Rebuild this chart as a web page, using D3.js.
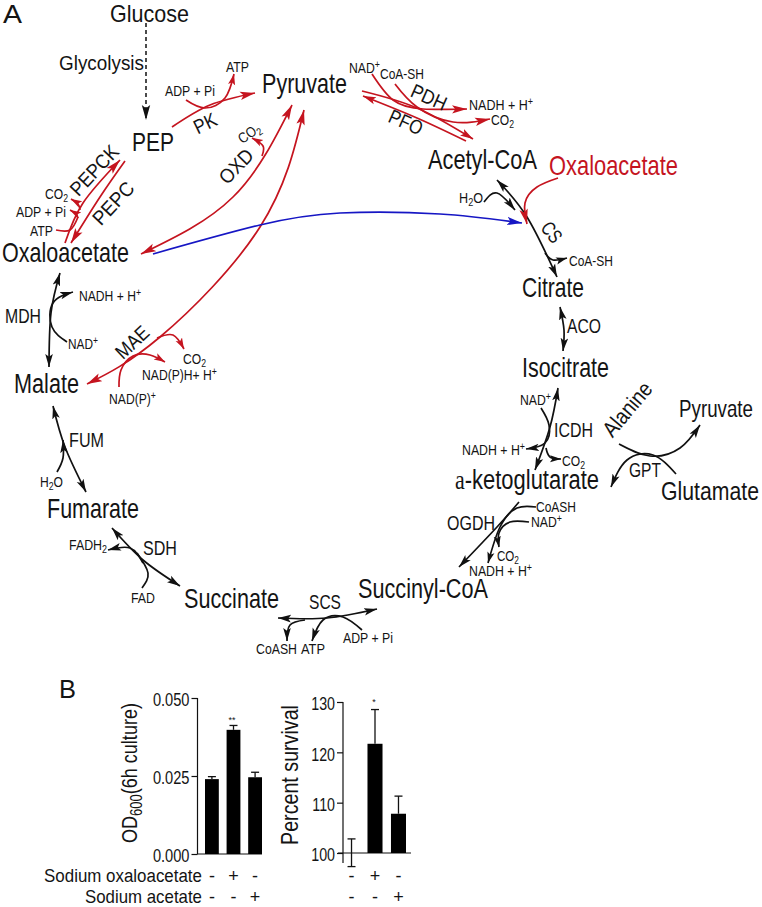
<!DOCTYPE html>
<html><head><meta charset="utf-8">
<script src="https://cdn.jsdelivr.net/npm/d3@7/dist/d3.min.js"></script>
<style>html,body{margin:0;padding:0;background:#fff}svg{display:block}text{font-family:"Liberation Sans",Arial,sans-serif;fill:#141414}</style>
</head><body><svg id="c" width="762" height="907"></svg>
<script>
// ---------- data ----------
const panelLabels = ["A","B"];
const metabolites = ["Glucose","PEP","Pyruvate","Oxaloacetate","Acetyl-CoA","Citrate","Isocitrate","a-ketoglutarate","Succinyl-CoA","Succinate","Fumarate","Malate"];
const enzymes = ["PK","OXD","PEPCK","PEPC","MDH","MAE","FUM","SDH","SCS","OGDH","ICDH","ACO","CS","PDH","PFO","GPT"];
const barConditions = ["control","oxaloacetate","acetate"];
const odValues = [0.024,0.0398,0.0246];
const odErrorTops = [0.0248,0.0412,0.0262];
const odTicks = [0,0.025,0.05];
const survivalValues = [100,121.7,107.8];
const survivalErrorTops = [102.8,128.5,111.3];
const survivalErrorBottoms = [97.3,null,null];
const survivalTicks = [100,110,120,130];
const oxaloacetateSigns = ["-","+","-"];
const acetateSigns = ["-","-","+"];

// ---------- diagram layout (drawing geometry, not values) ----------
const red="#c5141f", blue="#1616c4", black="#111";
// text, left x, baseline y, width, font size, colour
const flatLabels = [
 ["A",3,23,19,25],["B",59,698,17,25],
 ["Glucose",110,22,79,24],["Glycolysis",59,70,85,21],["ADP + Pi",165,96,50,14.5],["ATP",226,72,23,14.5],
 ["Pyruvate",262,93,85,27],["PEP",132,151,42,26],
 ["CO_2",45,199,23,14.5],["ADP + Pi",16,217,50,14.5],["ATP",30,236,23,14.5],["Oxaloacetate",2,262,127,27],
 ["NADH + H^+",79,301,62,14.5],["MDH",5,323,36,20],["NAD^+",68,349,30,14.5],
 ["CO_2",183,364,23,14.5],["NAD(P)H+ H^+",142,380,75,14.5],["NAD(P)^+",109,404,47,14.5],["Malate",14,393,65,27],
 ["FUM",69,447,35,20],["H_2O",40,487,23,14.5],["Fumarate",47,518,92,27],
 ["FADH_2",69,550,38,14.5],["SDH",143,555,34,20],["FAD",131,603,24,14.5],["Succinate",184,608,95,27],
 ["SCS",309,609,32,20],["Succinyl-CoA",358,598,130,27],["CoASH",256,654,41,14.5],["ATP",301,654,24,14.5],["ADP + Pi",343,643,50,14.5],
 ["NAD^+",349,73,31,14.5],["CoA-SH",380,79,44,14.5],["NADH + H^+",469,110,64,14.5],["CO_2",491,125,23,14.5],
 ["Acetyl-CoA",428,169,109,27],["Oxaloacetate",549,175,129,27,red],["H_2O",459,203,24,14.5],["CoA-SH",569,266,44,14.5],
 ["Citrate",522,297,62,27],["ACO",567,333,34,20],["Isocitrate",522,377,87,27],
 ["NAD^+",520,405,31,14.5],["ICDH",554,437,39,20],["NADH + H^+",462,455,63,14.5],["CO_2",562,466,23,14.5],
 ["a-ketoglutarate",455,489,144,27],["Pyruvate",679,417,74,23],["GPT",629,477,32,20],["Glutamate",661,500,98,26],
 ["CoASH",536,512,40,14.5],["NAD^+",531,527,31,14.5],["OGDH",447,530,48,20],["CO_2",497,561,22,14.5],["NADH + H^+",469,576,63,14.5]
];
// text, centre x, centre y, width, font size, rotation
const rotatedLabels = [
 ["PK",205,123,23,20,-26],["OXD",236,166,40,20,-46],["CO_2",249,133,24,14.5,-35],
 ["PEPCK",94,170,61,20,-47],["PEPC",113,203,51,20,-47],["MAE",132,342,38,20,-43],
 ["PDH",429,97,37,20,24],["PFO",406,122,35,20,24],["CS",552,232,21,20,52],["Alanine",627,409,64,22,-50]
];
// colour, head ("e" end, "b" both, ""), head size, points
const dashedArrow = [[146,23],[146,120]];
const pathways = [
 [red,"e","L",[[172,127],[210,105],[255,93]]],
 [red,"e","S",[[186,100],[205,108],[225,98],[234,74]]],
 [red,"b","L",[[292,105],[233,197],[141,254]]],
 [red,"e","S",[[262,156],[263,146],[252,138]]],
 [red,"b","L",[[304,110],[260,227],[160,337],[87,384]]],
 [red,"e","L",[[65,243],[83,203],[120,160]]],
 [red,"e","L",[[125,161],[100,197],[71,243]]],
 [red,"",  "S",[[56,230],[70,230],[78,217]]],
 [red,"e","S",[[78,218],[76,214],[70,210]]],
 [red,"e","S",[[80,210],[78,204],[71,199]]],
 [red,"e","S",[[119,387],[121,370],[133,356],[150,355],[165,362]]],
 [red,"e","S",[[157,338],[173,335],[184,349]]],
 [red,"e","M",[[362,91],[417,108],[473,139]]],
 [red,"e","M",[[466,141],[417,118],[363,96]]],
 [red,"e","L",[[372,74],[393,100],[423,109],[467,109]]],
 [red,"e","L",[[395,84],[417,107],[453,122],[490,119]]],
 [blue,"e","L",[[153,254],[260,225],[340,213],[440,214],[522,223]]],
 [black,"b","M",[[497,180],[527,217],[557,277]]],
 [red,"e","L",[[558,178],[537,187],[525,203],[527,224]]],
 [black,"e","M",[[484,202],[497,193],[515,210]]],
 [black,"e","S",[[545,253],[553,260],[567,258]]],
 [black,"b","M",[[560,307],[564,330],[563,351]]],
 [black,"b","M",[[558,388],[550,427],[535,470]]],
 [black,"e","M",[[541,408],[549,425],[545,443],[526,449]]],
 [black,"e","S",[[546,448],[550,457],[561,459]]],
 [black,"e","M",[[619,444],[650,456],[680,448],[700,425]]],
 [black,"e","M",[[676,474],[653,455],[627,460],[611,487]]],
 [black,"e","M",[[519,502],[497,527],[459,567]]],
 [black,"e","S",[[536,507],[517,508],[500,527],[488,563]]],
 [black,"e","S",[[529,522],[510,522],[499,533],[499,547]]],
 [black,"b","M",[[278,618],[327,618],[377,609]]],
 [black,"e","M",[[362,630],[343,617],[323,620],[312,641]]],
 [black,"e","M",[[305,620],[290,625],[287,641]]],
 [black,"b","M",[[112,528],[143,560],[180,586]]],
 [black,"e","M",[[143,563],[130,548],[108,550]]],
 [black,"",  "S",[[142,588],[148,573],[137,553]]],
 [black,"b","M",[[53,406],[65,447],[86,492]]],
 [black,"e","M",[[57,472],[63,458],[63,440]]],
 [black,"b","M",[[60,273],[51,313],[49,367]]],
 [black,"e","M",[[67,342],[52,327],[53,303],[73,292]]]
];

// ---------- drawing ----------
const svg = d3.select("#c");
const defs = svg.append("defs");
const headSizes = {L:[15,4.2],M:[13,3.8],S:[11,3.6]};
const colourKey = c => c.replace("#","");
[red,blue,black].forEach(c=>Object.entries(headSizes).forEach(([k,[l,w]])=>{
  defs.append("marker").attr("id",`h${colourKey(c)}${k}`)
    .attr("markerUnits","userSpaceOnUse").attr("markerWidth",l+2).attr("markerHeight",2*w+2)
    .attr("viewBox",`0 ${-w-1} ${l+2} ${2*w+2}`).attr("refX",l).attr("refY",0)
    .attr("orient","auto-start-reverse")
    .append("path").attr("d",`M0,${-w}L${l},0L0,${w}L${l*0.22},0Z`).attr("fill",c);
}));
const line = d3.line().curve(d3.curveNatural);
const gPaths = svg.append("g").attr("fill","none");
gPaths.append("path").attr("d",line(dashedArrow)).attr("stroke",black).attr("stroke-width",1.5)
  .attr("stroke-dasharray","4 3").attr("marker-end",`url(#h${colourKey(black)}L)`);
gPaths.selectAll("path.p").data(pathways).join("path").attr("class","p")
  .attr("d",d=>line(d[3])).attr("stroke",d=>d[0]).attr("stroke-width",1.7)
  .attr("marker-end",d=>d[1]?`url(#h${colourKey(d[0])}${d[2]})`:null)
  .attr("marker-start",d=>d[1]==="b"?`url(#h${colourKey(d[0])}${d[2]})`:null);

function rich(sel,str){
  if(str==="a-ketoglutarate"){
    sel.append("tspan").style("font-family","'Liberation Serif',serif").text("a");
    sel.append("tspan").text("-ketoglutarate"); return;
  }
  const re=/([_^])([0-9+]+)|([^_^]+)/g; let m,shift=0;
  const fs=parseFloat(sel.attr("font-size"));
  while((m=re.exec(str))){
    if(m[3]!==undefined){ sel.append("tspan").attr("dy",shift?-shift:null).text(m[3]); shift=0; }
    else { const d=m[1]==="_"?fs*0.22:-fs*0.36;
      sel.append("tspan").attr("dy",d-shift).attr("font-size",fs*0.72).text(m[2]); shift=d; }
  }
}
function putText(parent,str,fs,w,tf,colour){
  const t=parent.append("text").attr("font-size",fs).attr("text-anchor","middle");
  if(colour) t.style("fill",colour);
  rich(t,str);
  const k=w/t.node().getComputedTextLength();
  t.attr("transform",`${tf} scale(${k},1)`);
  return t;
}
const gText=svg.append("g");
flatLabels.forEach(([s,x,y,w,fs,col])=>putText(gText,s,fs,w,`translate(${x+w/2},${y})`,col));
rotatedLabels.forEach(([s,cx,cy,w,fs,r])=>{
  const t=putText(gText,s,fs,w,`translate(${cx},${cy}) rotate(${r})`);
  t.attr("y",fs*0.36);
});

// ---------- panel B ----------
function panel(o){
  const g=svg.append("g");
  const x=d3.scaleBand().domain(barConditions).range(o.band).paddingInner(0.36).paddingOuter(0);
  const y=d3.scaleLinear().domain(o.domain).range(o.yr);
  const ax=g.append("g").attr("transform",`translate(${o.axisX},0)`)
    .call(d3.axisLeft(y).tickValues(o.ticks).tickFormat(o.fmt).tickSize(6).tickSizeOuter(0));
  ax.select(".domain").attr("stroke",black).attr("stroke-width",1.2)
    .attr("d",`M0,${y(o.domain[1])}V${o.axisBottom}`);
  ax.selectAll(".tick line").attr("stroke",black).attr("stroke-width",1.2);
  ax.selectAll(".tick text").attr("font-size",19).style("font-family","'Liberation Sans',sans-serif")
    .attr("x",-8/o.tickK).attr("dy",o.tickDy).attr("transform",`scale(${o.tickK},1)`);
  g.append("line").attr("x1",o.baseStart).attr("x2",o.baseEnd).attr("y1",y(o.domain[0])).attr("y2",y(o.domain[0]))
    .attr("stroke",black).attr("stroke-width",1.2);
  g.selectAll("rect").data(barConditions).join("rect")
    .attr("x",d=>x(d)).attr("width",x.bandwidth())
    .attr("y",(d,i)=>y(o.values[i])).attr("height",(d,i)=>Math.max(0,y(o.domain[0])-y(o.values[i])))
    .attr("fill","#000");
  barConditions.forEach((d,i)=>{
    const c=x(d)+x.bandwidth()/2, cap=o.cap;
    const lo=o.bottoms&&o.bottoms[i]!=null?o.bottoms[i]:o.values[i];
    g.append("line").attr("x1",c).attr("x2",c).attr("y1",y(lo)).attr("y2",y(o.tops[i])).attr("stroke",black).attr("stroke-width",1.3);
    g.append("line").attr("x1",c-cap).attr("x2",c+cap).attr("y1",y(o.tops[i])).attr("y2",y(o.tops[i])).attr("stroke",black).attr("stroke-width",1.3);
    if(o.bottoms&&o.bottoms[i]!=null)
      g.append("line").attr("x1",c-cap).attr("x2",c+cap).attr("y1",y(lo)).attr("y2",y(lo)).attr("stroke",black).attr("stroke-width",1.3);
    g.append("text").attr("x",c).attr("y",882).attr("font-size",18).attr("text-anchor","middle").text(oxaloacetateSigns[i]);
    g.append("text").attr("x",c).attr("y",903).attr("font-size",18).attr("text-anchor","middle").text(acetateSigns[i]);
  });
  g.append("text").attr("x",o.star[0]).attr("y",o.star[1]).attr("font-size",9).attr("text-anchor","middle").text(o.star[2]);
  return g;
}
panel({band:[205,262],domain:[0,0.05],yr:[854,698],axisX:197.5,axisBottom:854,ticks:odTicks,fmt:d3.format(".3f"),tickK:0.77,
  values:odValues,tops:odErrorTops,cap:4,tickDy:"0.42em",baseStart:197,baseEnd:262,star:[232,723,"**"]});
panel({band:[344,406],domain:[100,130],yr:[853,702],axisX:343,axisBottom:863,ticks:survivalTicks,fmt:d3.format("d"),tickK:0.75,
  values:survivalValues,tops:survivalErrorTops,bottoms:survivalErrorBottoms,cap:4,tickDy:"0.42em",baseStart:338,baseEnd:411,star:[374,705,"*"]});

putText(gText,"OD_600(6h culture)",22,140,`translate(137,773) rotate(-90)`);
putText(gText,"Percent survival",23,140,`translate(298,775) rotate(-90)`);
putText(gText,"Sodium oxaloacetate",19,158,`translate(123,882)`);
putText(gText,"Sodium acetate",19,117,`translate(143.5,903)`);
</script></body></html>
